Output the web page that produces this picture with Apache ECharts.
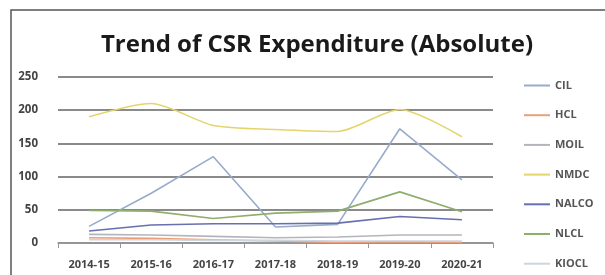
<!DOCTYPE html>
<html>
<head>
<meta charset="utf-8">
<script src="https://cdn.jsdelivr.net/npm/echarts@6/dist/echarts.min.js"></script>
<style>
html, body { margin: 0; padding: 0; background: #fff; }
#main { width: 605px; height: 275px; }
</style>
</head>
<body>
<div id="main"></div>
<script>
var years = ['2014-15', '2015-16', '2016-17', '2017-18', '2018-19', '2019-20', '2020-21'];
var yTicks = [0, 50, 100, 150, 200, 250];

var cil = [25, 75, 130, 24, 28, 172, 95];
var hcl = [8, 7, 5, 3, 1, 2, 1];
var moil = [13, 12, 10, 8, 9, 12, 12];
var nmdc = [190, 210, 177, 171, 168, 201, 160];
var nalco = [18, 27, 29, 29, 30, 40, 35];
var nlcl = [49, 48, 37, 45, 48, 77, 47];
var kiocl = [5, 5, 4, 4, 3, 3, 3];

var names = ['CIL', 'HCL', 'MOIL', 'NMDC', 'NALCO', 'NLCL', 'KIOCL'];
var colors = ['#97abcc', '#e9a07a', '#b4b4bc', '#e5d46c', '#6670b0', '#8fae6e', '#cdd5de'];
var values = [cil, hcl, moil, nmdc, nalco, nlcl, kiocl];

var myChart = echarts.init(document.getElementById('main'));

var series = names.map(function(n, i) {
	return {
		name: n,
		type: 'line',
		data: values[i],
		symbol: 'none',
		smooth: n === 'NMDC' ? 0.25 : false,
		lineStyle: { color: colors[i], width: 1.6 },
		itemStyle: { color: colors[i] },
		z: n === 'HCL' ? 1 : 2
	};
});

option = {
	backgroundColor: '#fff',
	animation: false,
	title: {
		text: 'Trend of CSR Expenditure (Absolute)',
		left: 312,
		textAlign: 'center',
		top: 28,
		textStyle: {
			fontFamily: 'Open Sans',
			fontSize: 24,
			fontWeight: 'bold',
			color: '#1a1a1a'
		}
	},
	legend: {
		orient: 'vertical',
		left: 519,
		top: 75,
		itemGap: 18.7,
		itemWidth: 26,
		itemHeight: 2,
		icon: 'rect',
		data: names,
		textStyle: {
			fontFamily: 'Open Sans',
			fontSize: 11,
			fontWeight: 'bold',
			color: '#555'
		}
	},
	grid: {
		left: 58,
		right: 112,
		top: 77,
		bottom: 32
	},
	xAxis: {
		type: 'category',
		data: years,
		boundaryGap: true,
		axisLine: { lineStyle: { color: '#999', width: 1.5 } },
		axisTick: { show: true, length: 5, lineStyle: { color: '#999' } },
		axisLabel: {
			fontFamily: 'Open Sans',
			fontSize: 11,
			fontWeight: 'bold',
			color: '#444',
			margin: 16
		}
	},
	yAxis: {
		type: 'value',
		min: yTicks[0],
		max: yTicks[yTicks.length - 1],
		interval: 50,
		axisLine: { show: false },
		axisTick: { show: false },
		splitLine: { lineStyle: { color: '#8a8a8a', width: 2 } },
		axisLabel: {
			fontFamily: 'Open Sans',
			fontSize: 11.5,
			fontWeight: 'bold',
			color: '#444',
			margin: 20
		}
	},
	graphic: [{
		type: 'rect',
		shape: { x: 11, y: 10, width: 620, height: 300 },
		style: { fill: 'none', stroke: '#555', lineWidth: 1.5 },
		silent: true
	}],
	series: series
};

myChart.setOption(option);
</script>
</body>
</html>
